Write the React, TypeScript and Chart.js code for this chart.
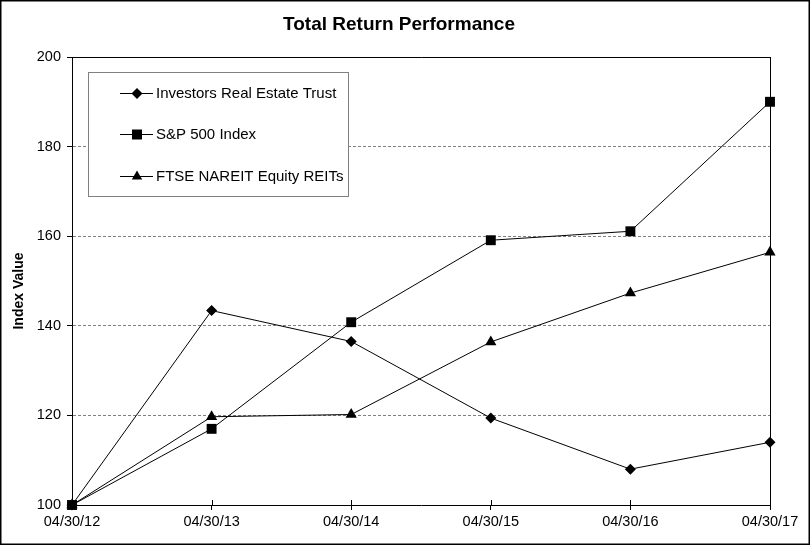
import React, { useEffect, useRef } from 'react';
import { Chart, registerables } from 'chart.js';

Chart.register(...registerables);

const dates = ['04/30/12', '04/30/13', '04/30/14', '04/30/15', '04/30/16', '04/30/17'];
const iret = [100, 143.4, 136.5, 119.4, 108.0, 114.0];
const sp500 = [100, 117.0, 140.8, 159.1, 161.1, 190.0];
const ftse = [100, 119.7, 120.2, 136.4, 147.3, 156.4];
const seriesNames = ['Investors Real Estate Trust', 'S&P 500 Index', 'FTSE NAREIT Equity REITs'];
const seriesMarkers = ['rectRot', 'rect', 'triangle'];
const yMin = 100;
const yMax = 200;
const yStep = 20;
const chartTitle = 'Total Return Performance';
const yAxisTitle = 'Index Value';

const FONT = '"Liberation Sans", Arial, Helvetica, sans-serif';

function drawMarker(ctx: CanvasRenderingContext2D, style: string, x: number, y: number) {
  ctx.beginPath();
  if (style === 'rectRot') {
    const r = 5.5;
    ctx.moveTo(x - r, y);
    ctx.lineTo(x, y - r);
    ctx.lineTo(x + r, y);
    ctx.lineTo(x, y + r);
  } else if (style === 'rect') {
    const h = 5;
    ctx.rect(x - h, y - h, 2 * h, 2 * h);
  } else {
    const r = 6;
    ctx.moveTo(x, y - r);
    ctx.lineTo(x + r * 0.866, y + r * 0.5);
    ctx.lineTo(x - r * 0.866, y + r * 0.5);
  }
  ctx.closePath();
  ctx.fillStyle = '#000';
  ctx.fill();
}

const decorPlugin = {
  id: 'decor',
  beforeDraw(chart: any) {
    const ctx = chart.ctx as CanvasRenderingContext2D;
    ctx.save();
    ctx.fillStyle = '#fff';
    ctx.fillRect(0, 0, chart.width, chart.height);
    ctx.restore();
  },
  afterDraw(chart: any) {
    const ctx = chart.ctx as CanvasRenderingContext2D;
    const { left, right, top, bottom } = chart.chartArea;
    const xScale = chart.scales.x;
    ctx.save();
    ctx.strokeStyle = '#000';
    ctx.lineWidth = 1.5;
    ctx.strokeRect(0.75, 0.75, chart.width - 1.5, chart.height - 1.5);
    ctx.lineWidth = 1;
    ctx.beginPath();
    ctx.moveTo(left, Math.round(top) + 0.5);
    ctx.lineTo(right + 0.5, Math.round(top) + 0.5);
    ctx.moveTo(Math.round(right) + 0.5, top);
    ctx.lineTo(Math.round(right) + 0.5, bottom);
    ctx.stroke();
    ctx.beginPath();
    for (let i = 0; i < dates.length; i++) {
      const px = Math.round(xScale.getPixelForValue(i)) + 0.5;
      ctx.moveTo(px, bottom - 5);
      ctx.lineTo(px, bottom);
    }
    ctx.stroke();
    ctx.fillStyle = '#000';
    ctx.font = `bold 19px ${FONT}`;
    ctx.textAlign = 'center';
    ctx.textBaseline = 'alphabetic';
    ctx.fillText(chartTitle, 399, 30);
    ctx.save();
    ctx.translate(19, 291);
    ctx.rotate(-Math.PI / 2);
    ctx.font = `bold 14px ${FONT}`;
    ctx.textBaseline = 'middle';
    ctx.fillText(yAxisTitle, 0, 0);
    ctx.restore();
    const bx = 88.5, by = 72.5, bw = 260, bh = 124;
    ctx.fillStyle = '#fff';
    ctx.fillRect(bx, by, bw, bh);
    ctx.strokeStyle = '#808080';
    ctx.strokeRect(bx, by, bw, bh);
    const rows = [93, 134, 176];
    ctx.font = `15px ${FONT}`;
    ctx.textAlign = 'left';
    ctx.textBaseline = 'middle';
    for (let i = 0; i < seriesNames.length; i++) {
      const y = rows[i];
      ctx.strokeStyle = '#000';
      ctx.lineWidth = 1;
      ctx.beginPath();
      ctx.moveTo(120, y + 0.5);
      ctx.lineTo(153, y + 0.5);
      ctx.stroke();
      drawMarker(ctx, seriesMarkers[i], 137, y + 0.5);
      ctx.fillStyle = '#000';
      ctx.fillText(seriesNames[i], 156, y + 1);
    }
    ctx.restore();
  },
};

export default function App() {
  const ref = useRef<HTMLCanvasElement>(null);
  useEffect(() => {
    if (!ref.current) return;
    const mk = (label: string, data: number[], style: string, radius: number, order: number) => ({
      label,
      data,
      borderColor: '#000',
      backgroundColor: '#000',
      borderWidth: 1,
      pointStyle: style,
      pointRadius: radius,
      pointBackgroundColor: '#000',
      pointBorderColor: '#000',
      pointBorderWidth: 0,
      tension: 0,
      clip: false,
      order,
    });
    const chart = new Chart(ref.current, {
      type: 'line',
      data: {
        labels: dates,
        datasets: [
          mk(seriesNames[0], iret, 'rectRot', 5.5, 3),
          mk(seriesNames[1], sp500, 'rect', 7, 2),
          mk(seriesNames[2], ftse, 'triangle', 6.5, 1),
        ] as any,
      },
      options: {
        responsive: false,
        animation: false,
        devicePixelRatio: 1,
        layout: { padding: { top: 57, right: 40, left: 0, bottom: 0 } },
        plugins: {
          legend: { display: false },
          title: { display: false },
          tooltip: { enabled: false },
        },
        scales: {
          x: {
            type: 'category',
            offset: false,
            grid: {
              display: true,
              drawOnChartArea: false,
              drawTicks: true,
              tickLength: 5,
              tickColor: '#000',
            },
            border: { display: true, color: '#000', width: 1 },
            ticks: {
              color: '#000',
              font: { family: FONT, size: 14.5 },
              padding: 3,
              maxRotation: 0,
              autoSkip: false,
            },
            afterFit: (s: any) => {
              s.height = 40;
            },
          },
          y: {
            min: yMin,
            max: yMax,
            grid: {
              display: true,
              drawOnChartArea: true,
              drawTicks: true,
              tickLength: 5,
              tickColor: '#000',
              color: (c: any) =>
                c.tick && (c.tick.value === yMin || c.tick.value === yMax) ? 'rgba(0,0,0,0)' : '#808080',
              lineWidth: 1,
            },
            border: { display: true, color: '#000', width: 1, dash: [3, 2] },
            ticks: {
              stepSize: yStep,
              color: '#000',
              font: { family: FONT, size: 14.5 },
              padding: 6,
            },
            afterFit: (s: any) => {
              s.width = 72;
            },
          },
        },
      },
      plugins: [decorPlugin],
    });
    return () => chart.destroy();
  }, []);
  return (
    <div style={{ position: 'absolute', left: 0, top: 0, width: 810, height: 545 }}>
      <canvas ref={ref} width={810} height={545} style={{ width: 810, height: 545, display: 'block' }} />
    </div>
  );
}
